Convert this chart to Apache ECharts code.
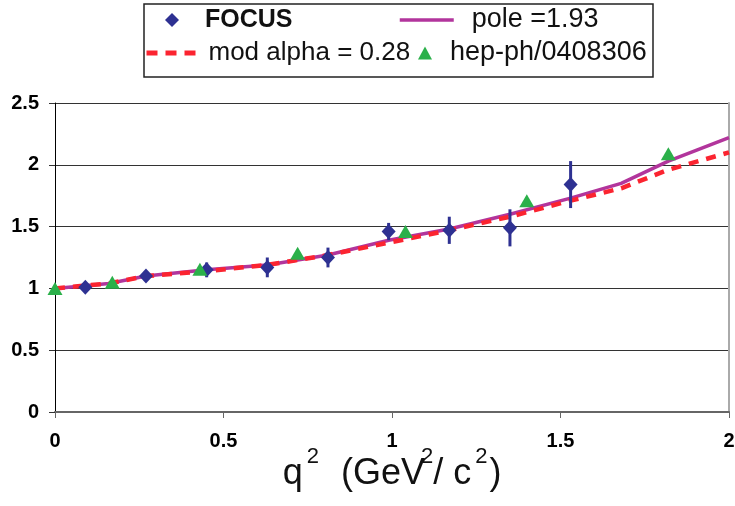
<!DOCTYPE html>
<html lang="en">
<head>
<meta charset="UTF-8">
<title>q2 form factor</title>
<script src="https://cdn.jsdelivr.net/npm/echarts@6/dist/echarts.min.js"></script>
<style>html,body{margin:0;padding:0;background:#fff}</style>
</head>
<body>
<div id="main" style="width:735px;height:506px;"></div>
<script>
// FOCUS measurements (with errors)
var focusQ2 = [0.09, 0.27, 0.45, 0.63, 0.81, 0.99, 1.17, 1.35, 1.53];
var focusVal = [1.01, 1.10, 1.15, 1.17, 1.25, 1.46, 1.47, 1.49, 1.84];
var focusErr = [0.02, 0.03, 0.06, 0.08, 0.08, 0.07, 0.11, 0.15, 0.19];

// hep-ph/0408306 points
var hepQ2 = [0, 0.17, 0.43, 0.72, 1.04, 1.40, 1.82];
var hepVal = [1.00, 1.05, 1.155, 1.285, 1.46, 1.71, 2.09];

// fit curves
var fitQ2 = [0, 0.16, 0.27, 0.45, 0.63, 0.81, 0.99, 1.17, 1.35, 1.53, 1.68, 1.82, 2.0];
var poleVal = [1.0, 1.04, 1.10, 1.15, 1.19, 1.27, 1.39, 1.48, 1.60, 1.73, 1.85, 2.03, 2.22];
var modAlphaVal = [1.0, 1.04, 1.10, 1.14, 1.19, 1.27, 1.37, 1.47, 1.58, 1.71, 1.81, 1.96, 2.10];

var FONT = '"Liberation Sans", Arial, sans-serif';
var BLUE = '#2e3192', GREEN = '#2bb04a', MAGENTA = '#b2359c', RED = '#fb2430';

function pairs(xs, ys) {
  return xs.map(function (x, i) { return [x, ys[i]]; });
}

var chart = echarts.init(document.getElementById('main'));

// one legend per entry so each sits where it does in the original box
var legendText = { fontFamily: FONT, fontSize: 26, color: '#111', lineHeight: 30 };

option = {
  animation: false,
  grid: { left: 55, right: 6, top: 103, bottom: 94, outerBoundsMode: 'none' },
  graphic: [{
    type: 'rect', shape: { x: 144, y: 4, width: 509, height: 73 },
    style: { fill: 'none', stroke: '#222', lineWidth: 1.5 }
  }],
  legend: [
    { data: ['FOCUS'], left: 165, top: 5, padding: 0, selectedMode: false,
      icon: 'diamond', itemWidth: 14, itemHeight: 14,
      textStyle: Object.assign({}, legendText, { fontWeight: 'bold', fontSize: 25, padding: [0, 0, 0, 21] }) },
    { data: ['pole =1.93'], left: 398, top: 5, padding: 0, selectedMode: false,
      itemWidth: 54, itemHeight: 14, lineStyle: { width: 3.5 }, itemStyle: { opacity: 0 },
      textStyle: Object.assign({}, legendText, { fontSize: 27, padding: [0, 0, 0, 13] }) },
    { data: ['mod alpha = 0.28'], left: 144, top: 38, padding: 0, selectedMode: false,
      itemWidth: 53, itemHeight: 14, lineStyle: { width: 5, type: [11, 8] }, itemStyle: { opacity: 0 },
      textStyle: Object.assign({}, legendText, { padding: [0, 0, 0, 4] }) },
    { data: ['hep-ph/0408306'], left: 418, top: 38, padding: 0, selectedMode: false,
      icon: 'triangle', itemWidth: 14, itemHeight: 13,
      textStyle: Object.assign({}, legendText, { fontSize: 27, padding: [0, 0, 0, 13] }) }
  ],
  xAxis: {
    type: 'value', min: 0, max: 2, interval: 0.5,
    axisLine: { lineStyle: { color: '#666', width: 2 } },
    axisTick: { show: true, length: 6, lineStyle: { color: '#666' } },
    axisLabel: { margin: 19, fontFamily: FONT, fontSize: 20, fontWeight: 'bold', color: '#000' },
    splitLine: { show: false },
    name: '{m|q}{s|2}{m|  (GeV}{v|2}{m|/ c}{s|2}{m|)}',
    nameLocation: 'middle', nameGap: 34, nameMoveOverlap: false,
    nameTextStyle: {
      rich: {
        m: { fontFamily: FONT, fontSize: 36, color: '#111', lineHeight: 56 },
        s: { fontFamily: FONT, fontSize: 22, color: '#111', lineHeight: 22, verticalAlign: 'top', padding: [0, 2, 0, 4] },
        v: { fontFamily: FONT, fontSize: 22, color: '#111', lineHeight: 22, verticalAlign: 'top', padding: [0, 0, 0, -4] }
      }
    }
  },
  yAxis: [{
    type: 'value', min: 0, max: 2.5, interval: 0.5,
    axisLine: { show: true, lineStyle: { color: '#000', width: 1 } },
    axisTick: { show: true, length: 6, lineStyle: { color: '#333' } },
    axisLabel: { margin: 16, fontFamily: FONT, fontSize: 20, fontWeight: 'bold', color: '#000' },
    splitLine: { lineStyle: { color: '#333', width: 1.2 } }
  }, {
    type: 'value', min: 0, max: 2.5, position: 'right',
    axisLine: { show: true, lineStyle: { color: '#aaa', width: 2 } },
    axisTick: { show: false }, axisLabel: { show: false }, splitLine: { show: false }
  }],
  series: [
    { name: 'pole =1.93', type: 'line', symbol: 'none', data: pairs(fitQ2, poleVal),
      lineStyle: { color: MAGENTA, width: 3.5 }, itemStyle: { color: MAGENTA }, z: 2 },
    { name: 'mod alpha = 0.28', type: 'line', symbol: 'none', data: pairs(fitQ2, modAlphaVal),
      lineStyle: { color: RED, width: 4.5, type: [10, 8] }, itemStyle: { color: RED }, z: 3 },
    { name: 'FOCUS err', type: 'custom', z: 4,
      data: focusQ2.map(function (q, i) { return [q, focusVal[i] - focusErr[i], focusVal[i] + focusErr[i]]; }),
      renderItem: function (params, api) {
        var a = api.coord([api.value(0), api.value(1)]);
        var b = api.coord([api.value(0), api.value(2)]);
        return { type: 'line', shape: { x1: a[0], y1: a[1], x2: b[0], y2: b[1] },
          style: { stroke: BLUE, lineWidth: 3 } };
      }
    },
    { name: 'FOCUS', type: 'scatter', symbol: 'diamond', symbolSize: [14, 15],
      data: pairs(focusQ2, focusVal), itemStyle: { color: BLUE, opacity: 1 }, z: 5 },
    { name: 'hep-ph/0408306', type: 'scatter', symbol: 'triangle', symbolSize: [15, 13],
      data: pairs(hepQ2, hepVal), itemStyle: { color: GREEN, opacity: 1 }, z: 6 }
  ]
};

chart.setOption(option);
</script>
</body>
</html>
